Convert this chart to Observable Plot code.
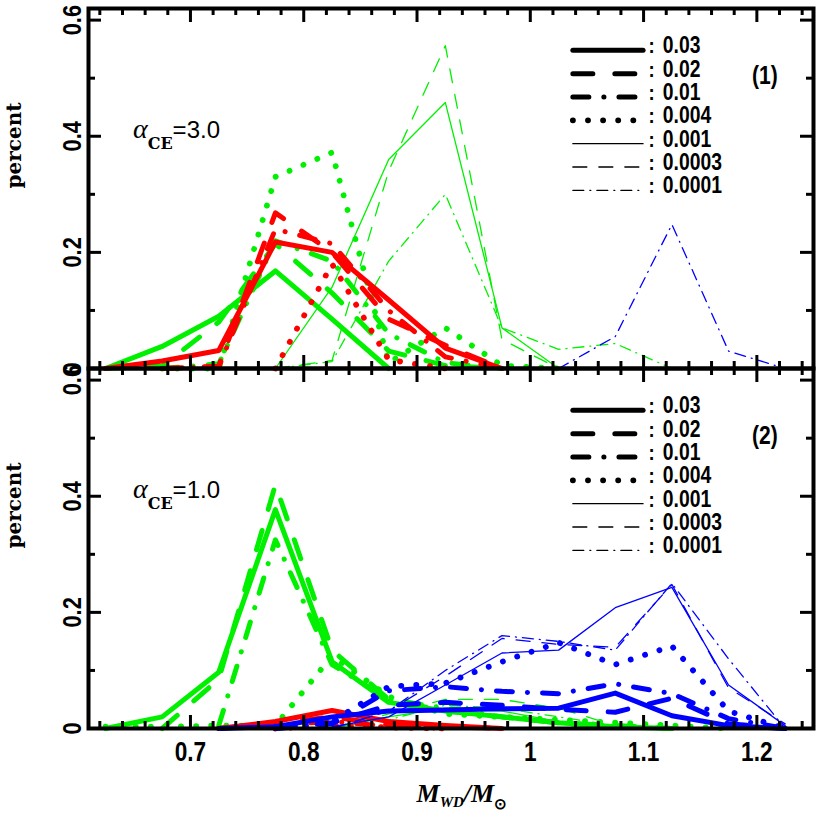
<!DOCTYPE html>
<html><head><meta charset="utf-8">
<script src="https://cdn.jsdelivr.net/npm/d3@7"></script>
<script src="https://cdn.jsdelivr.net/npm/@observablehq/plot@0.6"></script>
<style>
html,body{margin:0;padding:0;background:#fff;}
#wrap{position:relative;width:817px;height:817px;overflow:hidden;background:#fff;}
#wrap svg{position:absolute;left:0;overflow:visible;}
</style></head><body><div id="wrap"></div>
<script>
// ---------- data ----------
const _ = null;
const mass = [0.625,0.675,0.725,0.775,0.825,0.875,0.925,0.975,1.025,1.075,1.125,1.175,1.225];
const metals = ["0.03","0.02","0.01","0.004","0.001","0.0003","0.0001"];
const xMajor = [0.7,0.8,0.9,1.0,1.1,1.2];
const xMajorLabels = ["0.7","0.8","0.9","1","1.1","1.2"];
const yMajor = [0,0.2,0.4,0.6];
const yMajorLabels = ["0","0.2","0.4","0.6"];
const yMinor = [0.1,0.3,0.5];
const xMinor = [0.62,0.64,0.66,0.68,0.72,0.74,0.76,0.78,0.82,0.84,0.86,0.88,0.92,0.94,0.96,0.98,1.02,1.04,1.06,1.08,1.12,1.14,1.16,1.18,1.22,1.24];

// panel (1): alpha_CE = 3.0
const p1Green = {
  "0.03":   [0, 0.038, 0.090, 0.168, 0.085, 0, _, _, _, _, _, _, _],
  "0.02":   [0, 0.004, 0.080, 0.215, 0.130, 0.030, 0.005, 0, _, _, _, _, _],
  "0.01":   [_, 0, 0.008, 0.220, 0.185, 0.060, 0.010, 0, _, _, _, _, _],
  "0.004":  [_, 0, 0, 0.330, 0.372, 0.010, 0.070, 0.005, 0, _, _, _, _],
  "0.001":  [_, _, _, 0, 0.140, 0.360, 0.458, 0.070, 0, _, _, _, _],
  "0.0003": [_, _, _, 0, 0.014, 0.340, 0.556, 0.050, 0, _, _, _, _],
  "0.0001": [_, _, _, 0, 0.012, 0.185, 0.300, 0.070, 0.033, 0.043, 0, _, _]
};
const p1Red = {
  "0.03":  [0, 0.013, 0.031, 0.218, 0.200, 0.118, 0.035, 0, _, _, _, _, _],
  "0.02":  [_, 0, 0.004, 0.268, 0.200, 0.085, 0.040, 0, _, _, _, _, _],
  "0.01":  [_, 0, 0.003, 0.240, 0.215, 0.100, 0.020, 0, _, _, _, _, _],
  "0.004": [_, _, _, 0, 0.180, 0.015, 0, _, _, _, _, _, _]
};
const p1Blue = {
  "0.0001": [_, _, _, _, _, _, _, _, 0, 0.055, 0.248, 0.030, 0]
};

// panel (2): alpha_CE = 1.0
const p2Green = {
  "0.03":   [0, 0.020, 0.097, 0.377, 0.115, 0.045, 0.030, 0.020, 0.010, 0.003, 0, _, _],
  "0.02":   [_, 0, 0.085, 0.420, 0.135, 0.050, 0.030, 0.020, 0.010, 0.005, 0, _, _],
  "0.01":   [_, _, 0.005, 0.325, 0.110, 0.050, 0.035, 0.020, 0.010, 0, _, _, _],
  "0.004":  [0.003, 0.003, 0.005, 0.005, 0.125, 0.055, 0.025, 0.020, 0.015, 0.010, 0.005, 0, _],
  "0.001":  [_, _, _, _, 0, 0.020, 0.035, 0.030, 0.012, 0.005, 0, _, _],
  "0.0003": [_, _, _, _, 0, 0.025, 0.050, 0.050, 0.035, 0.005, 0, _, _],
  "0.0001": [_, _, _, _, 0, 0.015, 0.040, 0.035, 0.020, 0.005, 0, _, _]
};
const p2Red = {
  "0.03":  [_, _, 0, 0.012, 0.031, 0.012, 0.005, 0, _, _, _, _, _],
  "0.02":  [_, _, 0, 0.008, 0.020, 0.006, 0.003, 0, _, _, _, _, _],
  "0.01":  [_, _, 0, 0.006, 0.012, 0.004, 0, _, _, _, _, _, _],
  "0.004": [_, _, _, 0, 0.005, 0.002, 0, _, _, _, _, _, _]
};
const p2Blue = {
  "0.03":   [_, _, 0, 0.003, 0.020, 0.030, 0.032, 0.034, 0.035, 0.061, 0.022, 0.005, 0],
  "0.02":   [_, _, _, 0, 0.010, 0.040, 0.045, 0.040, 0.033, 0.028, 0.052, 0.008, 0],
  "0.01":   [_, _, _, 0, 0.008, 0.065, 0.072, 0.064, 0.060, 0.077, 0.060, 0.017, 0],
  "0.004":  [_, _, _, 0.003, 0.012, 0.072, 0.078, 0.115, 0.148, 0.110, 0.142, 0.030, 0],
  "0.001":  [_, _, _, _, 0.003, 0.020, 0.075, 0.130, 0.135, 0.208, 0.243, 0.075, 0.005],
  "0.0003": [_, _, _, _, 0, 0.030, 0.090, 0.155, 0.145, 0.140, 0.248, 0.070, 0.008],
  "0.0001": [_, _, _, _, 0, 0.030, 0.100, 0.160, 0.150, 0.135, 0.250, 0.120, 0]
};

// ---------- styles ----------
const colors = {red:"#ff0000", green:"#00f000", blue:"#0000ff"};
const thick = 5, thin = 1.3;
const lineStyle = {
  "0.03":   {strokeWidth: thick},
  "0.02":   {strokeWidth: thick, strokeDasharray: "20,22"},
  "0.01":   {strokeWidth: thick, strokeDasharray: "16,15,0.1,15"},
  "0.004":  {strokeWidth: thick + 0.8, strokeDasharray: "0.1,15"},
  "0.001":  {strokeWidth: thin},
  "0.0003": {strokeWidth: thin, strokeDasharray: "14,12"},
  "0.0001": {strokeWidth: thin, strokeDasharray: "11,6,1,6"}
};
const SANS = '"Liberation Sans Narrow","Liberation Sans",Arial,sans-serif';
const X0 = 0.61, X1 = 1.25, Y0 = 0, Y1 = 0.62, FH = 360, W = 817, ML = 88, MR = 4;
const dX = (X1 - X0) / (W - ML - MR), dY = (Y1 - Y0) / FH;

function tickMarks() {
  const T = 3;
  return [
    Plot.ruleX(xMajor, {x: d => d, y1: Y0, y2: Y0 + 13 * dY, strokeWidth: T}),
    Plot.ruleX(xMajor, {x: d => d, y1: Y1 - 14 * dY, y2: Y1, strokeWidth: T}),
    Plot.ruleX(xMinor, {x: d => d, y1: Y0, y2: Y0 + 7 * dY, strokeWidth: T}),
    Plot.ruleX(xMinor, {x: d => d, y1: Y1 - 7 * dY, y2: Y1, strokeWidth: T}),
    Plot.ruleY(yMajor, {y: d => d, x1: X0, x2: X0 + 13 * dX, strokeWidth: T}),
    Plot.ruleY(yMajor, {y: d => d, x1: X1 - 13 * dX, x2: X1, strokeWidth: T}),
    Plot.ruleY(yMinor, {y: d => d, x1: X0, x2: X0 + 7 * dX, strokeWidth: T}),
    Plot.ruleY(yMinor, {y: d => d, x1: X1 - 7 * dX, x2: X1, strokeWidth: T})
  ];
}

function panel({top, mt, mb, green, red, blue, alpha, tag, xLabels}) {
  const marks = [];
  for (const [obj, col] of [[green, "green"], [red, "red"], [blue, "blue"]]) {
    for (const z of metals) {
      if (!obj[z]) continue;
      const rows = obj[z].map((v, i) => ({m: mass[i], v}));
      marks.push(Plot.line(rows, {x: "m", y: "v", stroke: colors[col], ...lineStyle[z],
        strokeLinecap: "round", strokeLinejoin: "round"}));
    }
  }
  // legend
  const LX1 = 1.038, LX2 = 1.100, LC = 1.107, LT = 1.117, LY0 = 0.548, LDY = 0.0402;
  metals.forEach((z, i) => {
    marks.push(Plot.ruleY([LY0 - i * LDY], {x1: LX1, x2: LX2, stroke: "black", ...lineStyle[z], strokeLinecap: "round"}));
  });
  marks.push(Plot.text(metals, {x: LC, y: (d, i) => LY0 - i * LDY, text: () => ":", lineAnchor: "bottom", dy: 3,
    fontSize: 22, fontWeight: "bold", fontFamily: SANS}));
  marks.push(Plot.text(metals, {x: LT, y: (d, i) => LY0 - i * LDY, text: d => d, textAnchor: "start",
    lineAnchor: "bottom", dy: 3, fontSize: 23, fontWeight: "bold", fontFamily: SANS}));
  marks.push(Plot.text([tag], {x: 1.207, y: 0.503, text: d => d, fontSize: 25, fontWeight: "bold", fontFamily: SANS}));
  // axes
  marks.push(...tickMarks());
  marks.push(Plot.text(yMajor, {x: X0, y: d => d, text: (d, i) => yMajorLabels[i], rotate: -90, dx: -16,
    fontSize: 26, fontWeight: "bold", fontFamily: SANS}));
  marks.push(Plot.text(["percent"], {frameAnchor: "left", text: d => d, rotate: -90, dx: -74,
    fontSize: 20, fontWeight: "bold", fontFamily: '"DejaVu Serif",serif', letterSpacing: "2.5px"}));
  if (xLabels) {
    marks.push(Plot.text(xMajor, {x: d => d, y: Y0, text: (d, i) => xMajorLabels[i], dy: 24,
      fontSize: 27, fontWeight: "bold", fontFamily: SANS}));
  }
  marks.push(Plot.frame({stroke: "black", strokeWidth: 4}));

  const chart = Plot.plot({
    width: W, height: mt + FH + mb, marginTop: mt, marginBottom: mb, marginLeft: ML, marginRight: MR,
    x: {domain: [X0, X1], axis: null},
    y: {domain: [Y0, Y1], axis: null},
    style: {background: "transparent", overflow: "visible", color: "black"},
    marks
  });
  chart.style.top = top + "px";
  const sx = v => ML + (v - X0) / (X1 - X0) * (W - ML - MR);
  const sy = v => mt + (Y1 - v) / (Y1 - Y0) * FH;

  // alpha_CE label
  const t = d3.select(chart).append("text").attr("text-anchor", "start")
    .attr("x", sx(0.6497)).attr("y", sy(0.396)).attr("fill", "black");
  t.append("tspan").text("α").attr("font-family", '"Liberation Serif",serif').attr("font-style", "italic").attr("font-size", 28);
  t.append("tspan").text("CE").attr("dy", 11).attr("font-family", '"DejaVu Serif",serif').attr("font-weight", "bold").attr("font-size", 16);
  t.append("tspan").text("=" + alpha).attr("dy", -11).attr("font-family", '"Liberation Sans",Arial,sans-serif').attr("font-size", 24);

  if (xLabels) {
    const xl = d3.select(chart).append("text").attr("text-anchor", "start").attr("x", sx(0.9)).attr("y", mt + FH + 74).attr("fill", "black")
      .attr("font-family", '"Liberation Serif",serif').attr("font-weight", "bold").attr("font-style", "italic");
    xl.append("tspan").text("M").attr("font-size", 26);
    xl.append("tspan").text("WD").attr("font-size", 15).attr("dy", 5);
    xl.append("tspan").text("/M").attr("font-size", 26).attr("dy", -5);
    xl.append("tspan").text("⊙").attr("font-size", 15).attr("dy", 7).attr("font-style", "normal");
  }
  return chart;
}

const wrap = document.getElementById("wrap");
const c1 = panel({top: 0, mt: 8, mb: 12, green: p1Green, red: p1Red, blue: p1Blue, alpha: "3.0", tag: "(1)", xLabels: false});
const c2 = panel({top: 356, mt: 12, mb: 89, green: p2Green, red: p2Red, blue: p2Blue, alpha: "1.0", tag: "(2)", xLabels: true});
wrap.appendChild(c1);
wrap.appendChild(c2);

// condense the bold sans labels to mimic the narrow face of the original (if no narrow face is installed)
const ctx = document.createElement("canvas").getContext("2d");
ctx.font = 'bold 40px "Liberation Sans Narrow", monospace';
const wNarrow = ctx.measureText("0.0003").width;
ctx.font = 'bold 40px "Liberation Sans", monospace';
const wRegular = ctx.measureText("0.0003").width;
const narrowAvailable = wNarrow < wRegular * 0.95;
d3.selectAll('#wrap g[font-family*="Narrow"] text').each(function() {
  const len = this.getComputedTextLength();
  if (len > 0 && !narrowAvailable) {
    this.setAttribute("textLength", (len * 0.84).toFixed(1));
    this.setAttribute("lengthAdjust", "spacingAndGlyphs");
  }
});
</script></body></html>
